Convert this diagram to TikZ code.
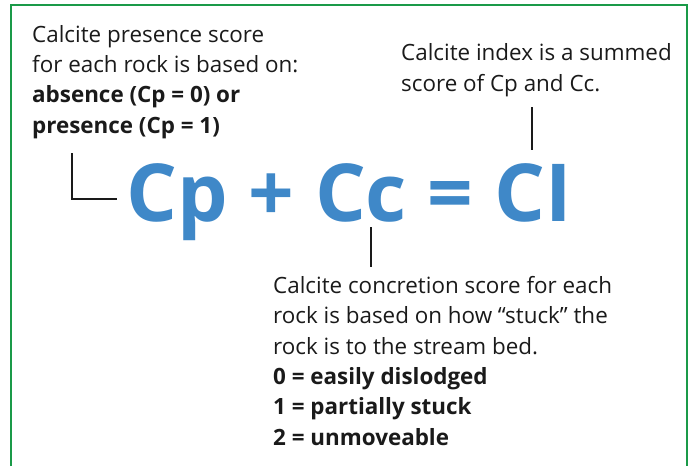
\documentclass[tikz,border=0pt]{standalone}
\usepackage{fontspec}
\setmainfont{Open Sans}
\definecolor{frame}{HTML}{1A9A48}
\definecolor{eqblue}{HTML}{3F88C8}
\definecolor{ink}{HTML}{1A1A1A}
\begin{document}
\begin{tikzpicture}[x=1pt,y=-1pt,
  note/.style={anchor=base west,inner sep=0pt,align=left,text=ink,font={\fontsize{22.4}{30.3}\selectfont}},
  lead/.style={draw=ink,line width=1.3pt},
  eq/.style={anchor=base west,inner sep=0pt,text=eqblue,font={\fontsize{80}{82}\selectfont\bfseries}}]
\useasboundingbox (0,0) rectangle (692,466);
\draw[frame,line width=2.6pt] (11,466) -- (11,5) -- (687,5) -- (687,466);
\node[note] (pres) at (32,133) {Calcite presence score\\for each rock is based on:\\\textbf{absence (Cp = 0) or}\\\textbf{presence (Cp = 1)}};
\node[note] (idx) at (401,91) {Calcite index is a summed\\score of Cp and Cc.};
\node[note] (conc) at (273,445) {Calcite concretion score for each\\rock is based on how “stuck” the\\rock is to the stream bed.\\\textbf{0 = easily dislodged}\\\textbf{1 = partially stuck}\\\textbf{2 = unmoveable}};
\node[eq] (eqn) at (126,221) {Cp + Cc = CI};
\coordinate (a1) at (72,153);
\coordinate (a2) at (117,199);
\coordinate (b1) at (532,107);
\coordinate (b2) at (532,150);
\coordinate (c1) at (371,227);
\coordinate (c2) at (371,267);
\draw[lead] (a1) |- (a2);
\draw[lead] (b1) -- (b2);
\draw[lead] (c1) -- (c2);
\end{tikzpicture}
\end{document}
